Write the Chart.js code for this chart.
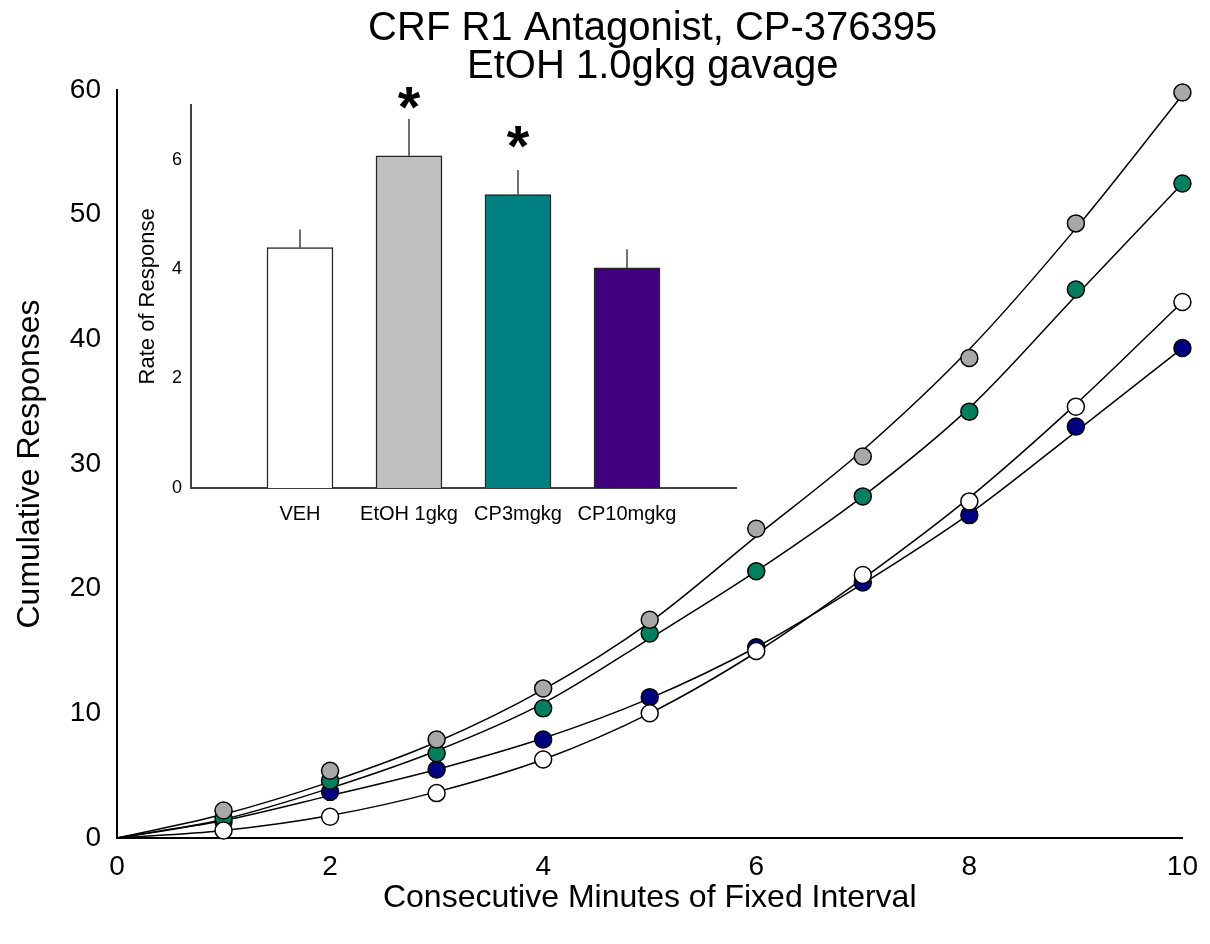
<!DOCTYPE html>
<html>
<head>
<meta charset="utf-8">
<script src="https://cdn.jsdelivr.net/npm/chart.js@4.4.1/dist/chart.umd.min.js"></script>
<style>
  body { margin: 0; background: #fff; }
  #wrap { position: relative; width: 1210px; height: 944px; }
  #main { position: absolute; left: 0; top: 0; }
  #inset { position: absolute; left: 130px; top: 85px; }
</style>
</head>
<body>
<div id="wrap">
  <canvas id="main" width="1210" height="944"></canvas>
  <canvas id="inset" width="620" height="450"></canvas>
</div>
<script>
// observed cumulative responses, minutes 1..10 of the fixed interval
const minutes = [1, 2, 3, 4, 5, 6, 7, 8, 9, 10]
const vehResp   = [0.6, 1.7, 3.6, 6.3, 10.0, 15.0, 21.1, 27.0, 34.6, 43.0]
const etohResp  = [2.2, 5.4, 7.9, 12.0, 17.5, 24.8, 30.6, 38.5, 49.3, 59.8]
const cp3Resp   = [1.6, 4.6, 6.8, 10.4, 16.4, 21.4, 27.4, 34.2, 44.0, 52.5]
const cp10Resp  = [1.3, 3.7, 5.5, 7.9, 11.3, 15.3, 20.5, 25.9, 33.0, 39.3]

// fitted curves, minutes 0..10
const fitMinutes = [0, 1, 2, 3, 4, 5, 6, 7, 8, 9, 10]
const vehFit  = [0, 0.6, 1.8, 3.7, 6.3, 10.0, 14.9, 20.8, 27.3, 34.8, 43.0]
const etohFit = [0, 1.9, 4.5, 7.7, 11.9, 17.3, 24.2, 31.1, 39.2, 48.9, 59.6]
const cp3Fit  = [0, 1.5, 4.0, 7.0, 10.8, 16.0, 21.4, 27.4, 34.5, 43.5, 52.5]
const cp10Fit = [0, 1.4, 3.4, 5.5, 8.0, 11.2, 15.3, 20.4, 26.0, 32.6, 39.3]

// inset: rate of response
const barLabels = ['VEH', 'EtOH 1gkg', 'CP3mgkg', 'CP10mgkg']
const barMeans  = [4.39, 6.07, 5.36, 4.02]
const barSem    = [0.33, 0.67, 0.45, 0.34]
const starAt    = [null, 7.11, 6.40, null]

const mainTicks = [0, 10, 20, 30, 40, 50, 60]
const minuteTicks = [0, 2, 4, 6, 8, 10]
const rateTicks = [0, 2, 4, 6]
const titleLines = ['CRF R1 Antagonist, CP-376395', 'EtOH 1.0gkg gavage']

const FONT = 'Liberation Sans, Arial, sans-serif'
Chart.defaults.font.family = FONT
Chart.defaults.color = '#000'

function dots(vals, fill){
  return {
    data: minutes.map((m, i) => ({x: m, y: vals[i]})),
    showLine: false,
    order: 0,
    backgroundColor: fill,
    pointBackgroundColor: fill,
    pointBorderColor: '#000',
    pointBorderWidth: 1.5,
    pointRadius: 8.5,
    clip: false
  }
}

function fit(vals){
  return {
    data: fitMinutes.map((m, i) => ({x: m, y: vals[i]})),
    order: 1,
    borderColor: '#000',
    borderWidth: 1.5,
    pointRadius: 0,
    cubicInterpolationMode: 'monotone',
    clip: false
  }
}

// title centred over the plot area, not the whole canvas
const plotTitle = {
  id: 'plotTitle',
  afterDraw(chart){
    const ctx = chart.ctx
    const cx = (chart.chartArea.left + chart.chartArea.right) / 2
    ctx.save()
    ctx.fillStyle = '#000'
    ctx.font = '40px ' + FONT
    ctx.textAlign = 'center'
    ctx.textBaseline = 'middle'
    titleLines.forEach((t, i) => ctx.fillText(t, cx + 3, 29 + i * 38))
    ctx.restore()
  }
}

const mainChart = new Chart(document.getElementById('main').getContext('2d'), {
  type: 'line',
  data: {
    datasets: [
      dots(vehResp, '#ffffff'),
      dots(etohResp, '#a8a8a8'),
      dots(cp3Resp, '#00805f'),
      dots(cp10Resp, '#000080'),
      fit(vehFit),
      fit(etohFit),
      fit(cp3Fit),
      fit(cp10Fit)
    ]
  },
  options: {
    responsive: false,
    animation: false,
    devicePixelRatio: 1,
    layout: { padding: { left: 0, right: 26, top: 90, bottom: 0 } },
    plugins: {
      legend: { display: false },
      tooltip: { enabled: false },
      title: { display: false }
    },
    scales: {
      x: {
        type: 'linear', min: 0, max: 10,
        afterFit: s => { s.height = 106 },
        afterBuildTicks: s => { s.ticks = minuteTicks.map(v => ({value: v})) },
        grid: { display: false, drawTicks: false },
        border: { color: '#000', width: 2 },
        ticks: { font: { size: 28 }, padding: 12 },
        title: { display: true, text: 'Consecutive Minutes of Fixed Interval', font: { size: 32 }, padding: { bottom: 27 } }
      },
      y: {
        type: 'linear', min: 0, max: 60,
        afterFit: s => { s.width = 117 },
        afterBuildTicks: s => { s.ticks = mainTicks.map(v => ({value: v})) },
        grid: { display: false, drawTicks: false },
        border: { color: '#000', width: 2 },
        ticks: { font: { size: 28 }, padding: 16 },
        title: { display: true, text: 'Cumulative Responses', font: { size: 32 }, padding: { top: 11 } }
      }
    }
  },
  plugins: [plotTitle]
})

// error bars + asterisks for the inset
const insetMarks = {
  id: 'insetMarks',
  afterDatasetsDraw(chart){
    const ctx = chart.ctx
    const meta = chart.getDatasetMeta(0)
    const y = chart.scales.y
    ctx.save()
    ctx.strokeStyle = '#404040'
    ctx.lineWidth = 1.5
    barMeans.forEach((m, i) => {
      const bar = meta.data[i + 1]
      ctx.beginPath()
      ctx.moveTo(bar.x, y.getPixelForValue(m))
      ctx.lineTo(bar.x, y.getPixelForValue(m + barSem[i]))
      ctx.stroke()
    })
    ctx.fillStyle = '#000'
    ctx.font = 'bold 58px ' + FONT
    ctx.textAlign = 'center'
    ctx.textBaseline = 'alphabetic'
    starAt.forEach((v, i) => {
      if(v == null) return
      const bar = meta.data[i + 1]
      ctx.fillText('*', bar.x, y.getPixelForValue(v) + 28)
    })
    ctx.restore()
  }
}

const insetChart = new Chart(document.getElementById('inset').getContext('2d'), {
  type: 'bar',
  data: {
    labels: ['', ...barLabels, ''],
    datasets: [{
      data: [null, ...barMeans, null],
      backgroundColor: ['#fff', '#ffffff', '#c0c0c0', '#008080', '#400080', '#fff'],
      borderColor: '#262626',
      borderWidth: 1.5,
      borderSkipped: 'bottom',
      barThickness: 66
    }]
  },
  options: {
    responsive: false,
    animation: false,
    devicePixelRatio: 1,
    layout: { padding: { left: 0, right: 10, top: 0, bottom: 0 } },
    plugins: { legend: { display: false }, tooltip: { enabled: false } },
    scales: {
      x: {
        offset: false,
        afterFit: s => { s.height = 47 },
        grid: { display: false, drawTicks: false },
        border: { color: '#404040', width: 2 },
        ticks: { font: { size: 20 }, padding: 14, maxRotation: 0, autoSkip: false }
      },
      y: {
        min: 0, max: 7,
        afterFit: s => { s.width = 61 },
        afterBuildTicks: s => { s.ticks = rateTicks.map(v => ({value: v})) },
        grid: { display: false, drawTicks: false },
        border: { color: '#404040', width: 2 },
        ticks: { font: { size: 18 }, padding: 9 },
        title: { display: true, text: 'Rate of Response', font: { size: 22 }, padding: { top: 5 } }
      }
    }
  },
  plugins: [insetMarks]
})
</script>
</body>
</html>
